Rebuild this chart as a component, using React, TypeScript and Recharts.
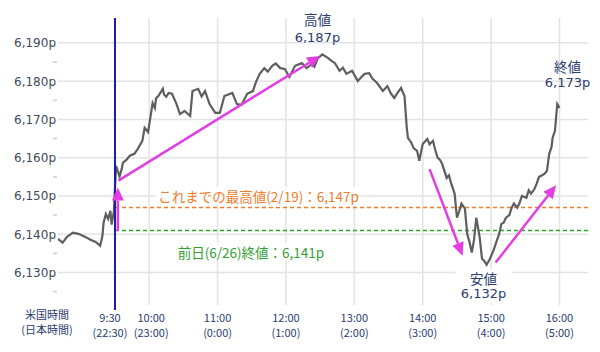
import React from 'react'
import { LineChart, Line, XAxis, YAxis, ReferenceLine, ReferenceDot } from 'recharts'

// minutes since midnight (US time)
const times = [
  520, 524, 528, 533, 538, 544, 548, 553, 557, 559,
  560, 562, 564, 566, 567, 569, 571, 573, 574, 576,
  577, 580, 583, 587, 590, 594, 596, 599, 601, 603,
  605, 606, 608, 612, 613, 615, 617, 620, 624, 627,
  631, 636, 638, 643, 646, 649, 653, 658, 662, 666,
  673, 677, 681, 686, 691, 694, 697, 701, 704, 708,
  711, 715, 719, 723, 728, 734, 738, 743, 745, 748,
  752, 757, 760, 763, 767, 770, 773, 778, 783, 786,
  789, 793, 796, 800, 805, 809, 812, 815, 818, 821,
  824, 826, 827, 830, 832, 835, 837, 840, 844, 846,
  849, 851, 853, 855, 857, 861, 863, 865, 868, 870,
  872, 874, 877, 879, 881, 883, 885, 887, 890, 892,
  894, 896, 899, 902, 905, 907, 909, 911, 913, 916,
  918, 920, 923, 925, 927, 931, 933, 935, 938, 940,
  942, 944, 947, 949, 951, 953, 954, 956, 957, 958,
  960,
]

const prices = [
  6138.8, 6137.8, 6139.3, 6140.4, 6140.1, 6139.3, 6138.6, 6138.0, 6137.0, 6139.6,
  6143.0, 6145.3, 6144.0, 6146.1, 6142.5, 6145.9, 6157.9, 6156.0, 6155.0, 6157.2,
  6158.7, 6159.4, 6160.5, 6161.0, 6162.3, 6164.4, 6167.8, 6166.7, 6170.4, 6174.3,
  6173.0, 6175.5, 6176.1, 6178.0, 6176.5, 6175.9, 6176.9, 6176.7, 6174.0, 6171.4,
  6172.2, 6170.9, 6177.4, 6178.0, 6176.0, 6177.4, 6174.0, 6171.7, 6171.7, 6176.1,
  6176.9, 6174.0, 6173.8, 6176.7, 6177.4, 6180.0, 6181.9, 6183.4, 6182.5, 6184.0,
  6184.6, 6183.4, 6183.2, 6181.1, 6184.0, 6184.7, 6183.4, 6184.5, 6183.8, 6186.0,
  6187.0, 6186.0, 6185.3, 6184.7, 6182.7, 6183.5, 6181.9, 6182.7, 6180.0, 6181.0,
  6181.9, 6182.1, 6180.6, 6179.5, 6177.4, 6178.7, 6176.8, 6175.6, 6177.0, 6178.2,
  6176.1, 6167.8, 6165.2, 6163.9, 6162.5, 6161.8, 6159.2, 6163.6, 6164.9, 6163.5,
  6164.4, 6162.0, 6160.0, 6159.5, 6158.4, 6154.7, 6155.4, 6153.2, 6150.6, 6144.3,
  6146.0, 6148.0, 6146.7, 6140.1, 6138.0, 6135.2, 6138.5, 6144.3, 6139.1, 6133.6,
  6133.0, 6132.0, 6133.6, 6135.7, 6138.3, 6140.0, 6142.7, 6143.0, 6144.3, 6145.0,
  6146.9, 6148.0, 6146.9, 6148.2, 6150.0, 6149.5, 6151.5, 6150.6, 6151.8, 6153.2,
  6155.0, 6155.3, 6155.8, 6156.6, 6161.0, 6162.8, 6165.2, 6167.0, 6170.4, 6174.0,
  6173.0,
]

const tickTimes = [570, 600, 660, 720, 780, 840, 900, 960]
const usLabels = ['9:30', '10:00', '11:00', '12:00', '13:00', '14:00', '15:00', '16:00']
const jpLabels = ['(22:30)', '(23:00)', '(0:00)', '(1:00)', '(2:00)', '(3:00)', '(4:00)', '(5:00)']

const yTicks = [6125, 6130, 6135, 6140, 6145, 6150, 6155, 6160, 6165, 6170, 6175, 6180, 6185, 6190]
const gridPrices = [6130, 6140, 6150, 6160, 6170, 6180, 6190]

const openTime = 570
const recordHigh = 6147
const prevClose = 6141
const high = { t: 752, v: 6187, label: '6,187p' }
const low = { t: 896, v: 6132, label: '6,132p' }
const close = { t: 960, v: 6173, label: '6,173p' }

// arrows: [start, end] in data coordinates
const arrows = [
  [{ x: 572.5, y: 6140.8 }, { x: 572.5, y: 6152.2 }],
  [{ x: 573, y: 6154 }, { x: 750, y: 6186.6 }],
  [{ x: 846, y: 6157 }, { x: 875, y: 6134.4 }],
  [{ x: 904, y: 6132.6 }, { x: 957, y: 6152.8 }],
]

const data = times.map((t, i) => ({ t, price: prices[i] }))

const JP = '"Noto Sans CJK JP", "Noto Sans", sans-serif'
const NUM = '"DejaVu Sans", sans-serif'
const NAVY = '#2a3c70'
const MAGENTA = '#e23ee2'

function TimeTick(props: any) {
  const { x, y, payload } = props
  const i = tickTimes.indexOf(payload.value)
  // first two labels are nudged apart in the original
  const dx = payload.value === 570 ? -5 : payload.value === 600 ? 2 : 0
  return (
    <g>
      <text x={x + dx} y={y + 9} textAnchor="middle" fontSize={11} fontFamily={JP} fill={NAVY}>
        {usLabels[i]}
      </text>
      <text x={x + dx} y={y + 24} textAnchor="middle" fontSize={11} fontFamily={JP} fill={NAVY}>
        {jpLabels[i]}
      </text>
    </g>
  )
}

function PriceTick(props: any) {
  const { y, payload } = props
  const v = payload.value
  if (v % 10 !== 0) {
    return <line x1={53} x2={57} y1={y} y2={y} stroke="#cfcfcf" strokeWidth={1.5} />
  }
  return (
    <text x={56} y={y} dy={4.5} textAnchor="end" fontSize={12} fontFamily={NUM} fill="#404a5a">
      {v.toLocaleString('en-US')}p
    </text>
  )
}

function Arrow(props: any) {
  const { x1, y1, x2, y2 } = props
  const a = Math.atan2(y2 - y1, x2 - x1)
  const L = 13
  const W = 6
  const bx = x2 - L * Math.cos(a)
  const by = y2 - L * Math.sin(a)
  const px = -Math.sin(a) * W
  const py = Math.cos(a) * W
  return (
    <g>
      <line x1={x1} y1={y1} x2={bx} y2={by} stroke={MAGENTA} strokeWidth={2.5} />
      <polygon points={`${x2},${y2} ${bx + px},${by + py} ${bx - px},${by - py}`} fill={MAGENTA} />
    </g>
  )
}

function OpenLine(props: any) {
  const { x1, y1, y2 } = props
  return <line x1={x1} x2={x1} y1={Math.min(y1, y2)} y2={Math.max(y1, y2) + 5} stroke="#1c1ca8" strokeWidth={2} />
}

function TwoLine(props: any, title: string, value: string, dx: number, dy1: number, dy2: number, bg?: boolean) {
  const { cx, cy } = props
  return (
    <g>
      {bg && <rect x={cx + dx - 28} y={cy + dy1 - 9} width={56} height={dy2 - dy1 + 18} fill="#fff" />}
      <text x={cx + dx} y={cy + dy1} textAnchor="middle" dominantBaseline="central" fontSize={13.5} fontFamily={JP} fill={NAVY}>
        {title}
      </text>
      <text x={cx + dx} y={cy + dy2} textAnchor="middle" dominantBaseline="central" fontSize={13} fontFamily={NUM} fill={NAVY}>
        {value}
      </text>
    </g>
  )
}

function LineNote(props: any, text: string, color: string, width: number) {
  const { cx, cy } = props
  return (
    <g>
      <rect x={cx - 2} y={cy - 9} width={width} height={18} fill="#fff" />
      <text x={cx} y={cy} dominantBaseline="central" fontSize={13.5} fontFamily={JP} fill={color}>
        {text}
      </text>
    </g>
  )
}

export default function App() {
  return (
    <div style={{ position: 'absolute', left: 0, top: 0, width: 600, height: 352, background: '#fff' }}>
      <LineChart width={600} height={352} data={data} margin={{ top: 18, right: 12, left: 0, bottom: 0 }}>
        <XAxis
          dataKey="t"
          type="number"
          domain={[520, 985]}
          ticks={tickTimes}
          interval={0}
          tick={<TimeTick />}
          tickLine={false}
          axisLine={false}
          height={47}
          allowDataOverflow
        />
        <YAxis
          type="number"
          domain={[6121.5, 6196.5]}
          ticks={yTicks}
          interval={0}
          tick={<PriceTick />}
          tickLine={false}
          axisLine={false}
          width={58}
          allowDataOverflow
        />
        {gridPrices.map((v) => (
          <ReferenceLine key={'h' + v} y={v} stroke="#e3e3e3" strokeWidth={1.5} />
        ))}
        {tickTimes.slice(1).map((t) => (
          <ReferenceLine key={'v' + t} x={t} stroke="#e3e3e3" strokeWidth={1.5} />
        ))}
        <ReferenceDot x={608} y={6150} r={0} shape={(p: any) => LineNote(p, 'これまでの最高値(2/19)：6,147p', '#f07c2c', 200)} />
        <ReferenceDot x={625} y={6135.4} r={0} shape={(p: any) => LineNote(p, '前日(6/26)終値：6,141p', '#33a033', 150)} />
        <ReferenceLine
          segment={[{ x: openTime, y: recordHigh }, { x: 985, y: recordHigh }]}
          stroke="#f07c2c"
          strokeWidth={1.5}
          strokeDasharray="4 3"
        />
        <ReferenceLine
          segment={[{ x: openTime, y: prevClose }, { x: 985, y: prevClose }]}
          stroke="#22aa22"
          strokeWidth={1.5}
          strokeDasharray="4 3"
        />
        <Line dataKey="price" stroke="#5e5e5e" strokeWidth={2.2} dot={false} isAnimationActive={false} />
        <ReferenceLine x={openTime} shape={OpenLine} />
        {arrows.map((seg, i) => (
          <ReferenceLine key={'a' + i} segment={seg} shape={Arrow} />
        ))}
        <ReferenceDot x={high.t} y={high.v} r={0} shape={(p: any) => TwoLine(p, '高値', high.label, -5, -35, -17)} />
        <ReferenceDot x={close.t} y={close.v} r={0} shape={(p: any) => TwoLine(p, '終値', close.label, 8, -42, -25)} />
        <ReferenceDot x={low.t} y={low.v} r={0} shape={(p: any) => TwoLine(p, '安値', low.label, -3, 13, 29, true)} />
      </LineChart>
      <div
        style={{
          position: 'absolute',
          left: 12,
          top: 307,
          width: 70,
          textAlign: 'center',
          fontSize: 11,
          lineHeight: '15px',
          fontFamily: JP,
          color: NAVY,
        }}
      >
        米国時間
        <br />
        (日本時間)
      </div>
    </div>
  )
}
